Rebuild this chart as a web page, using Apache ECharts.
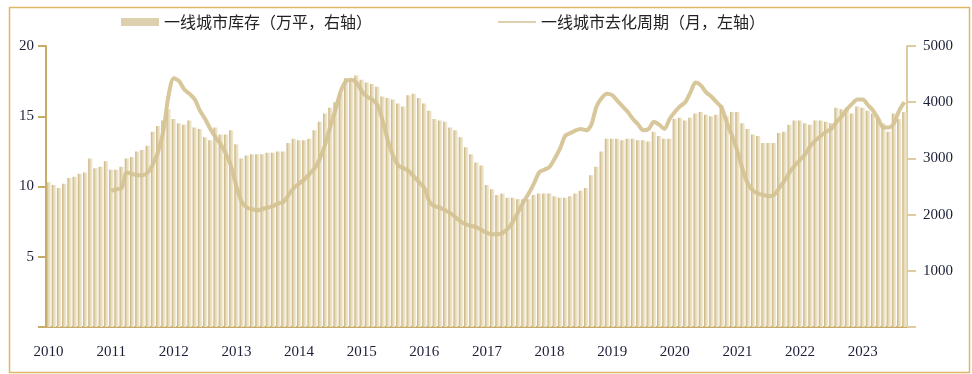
<!DOCTYPE html>
<html>
<head>
<meta charset="utf-8">
<script src="https://cdn.jsdelivr.net/npm/echarts@6/dist/echarts.min.js"></script>
<style>
html,body{margin:0;padding:0;background:#fff;}
#c{width:972px;height:374px;}
</style>
</head>
<body>
<div id="c"></div>
<script>
// Year tick labels
var years = ['2010','2011','2012','2013','2014','2015','2016','2017','2018','2019','2020','2021','2022','2023'];
var monthNames = ['01','02','03','04','05','06','07','08','09','10','11','12'];

// 一线城市库存（万平，右轴）, monthly from 2010-01
var inventory = [
  2575, 2525, 2475, 2550, 2650, 2675, 2725, 2750, 3000, 2825, 2850, 2950,
  2800, 2800, 2850, 3000, 3025, 3125, 3150, 3225, 3475, 3575, 3675, 3875,
  3700, 3625, 3600, 3675, 3550, 3525, 3375, 3325, 3550, 3425, 3425, 3500,
  3250, 3000, 3050, 3075, 3075, 3075, 3100, 3100, 3125, 3125, 3275, 3350,
  3325, 3325, 3350, 3500, 3650, 3800, 3900, 4000, 4150, 4425, 4400, 4475,
  4400, 4350, 4325, 4275, 4100, 4075, 4050, 3975, 3925, 4125, 4150, 4075,
  3975, 3850, 3700, 3675, 3650, 3550, 3500, 3375, 3200, 3075, 2925, 2875,
  2525, 2450, 2350, 2375, 2300, 2300, 2275, 2275, 2275, 2350, 2375, 2375,
  2375, 2325, 2300, 2300, 2325, 2375, 2425, 2475, 2700, 2850, 3125, 3350,
  3350, 3350, 3325, 3350, 3350, 3325, 3325, 3300, 3475, 3400, 3350, 3350,
  3700, 3725, 3675, 3725, 3800, 3825, 3775, 3750, 3775, 3950, 3750, 3825,
  3825, 3625, 3525, 3425, 3400, 3275, 3275, 3275, 3450, 3475, 3600, 3675,
  3675, 3625, 3600, 3675, 3675, 3650, 3625, 3900, 3875, 3900, 3800, 3925,
  3900, 3850, 3800, 3725, 3625, 3475, 3800, 3700, 3825
];

// 一线城市去化周期（月，左轴）, monthly from 2011-01
var cycleStartIndex = 12;
var cycle = [
  9.7, 9.8, 9.9, 11.0, 10.9, 10.8, 10.8, 11.0, 11.6, 12.5, 14.0, 16.5,
  17.7, 17.5, 16.9, 16.6, 16.2, 15.4, 14.8, 14.1, 13.5, 13.0, 12.3, 11.4,
  10.0, 8.9, 8.5, 8.4, 8.3, 8.4, 8.5, 8.6, 8.8, 8.9, 9.4, 9.9,
  10.2, 10.5, 10.9, 11.3, 12.0, 13.0, 14.3, 15.5, 16.8, 17.5, 17.6, 17.4,
  16.8, 16.4, 16.2, 15.8, 14.7, 13.3, 12.2, 11.5, 11.3, 11.1, 10.7, 10.3,
  9.9, 8.9, 8.6, 8.5, 8.3, 8.1, 7.8, 7.5, 7.3, 7.2, 7.1, 6.9,
  6.7, 6.6, 6.6, 6.7, 7.0, 7.5, 8.2, 8.9, 9.5, 10.2, 11.0, 11.2,
  11.4, 12.0, 12.7, 13.6, 13.8, 14.0, 14.1, 14.0, 14.4, 15.7, 16.3, 16.6,
  16.5, 16.1, 15.7, 15.3, 14.8, 14.4, 14.0, 14.1, 14.6, 14.4, 14.1, 14.8,
  15.3, 15.7, 16.0, 16.7, 17.4, 17.2, 16.7, 16.4, 16.0, 15.6, 14.5, 13.6,
  12.5, 11.2, 10.2, 9.7, 9.5, 9.4, 9.3, 9.4, 9.9, 10.4, 11.0, 11.5,
  11.9, 12.3, 12.9, 13.3, 13.6, 13.9, 14.1, 14.6, 15.0, 15.5, 15.9, 16.2,
  16.2, 15.8, 15.4, 14.8, 14.2, 14.2, 14.5, 15.4, 16.0
];

var seriesNames = ['一线城市库存（万平，右轴）', '一线城市去化周期（月，左轴）'];

var categories = [];
years.forEach(function (y) {
  monthNames.forEach(function (m) {
    if (categories.length < inventory.length) categories.push(y + '-' + m);
  });
});
var cycleData = [];
for (var i = 0; i < cycleStartIndex; i++) cycleData.push(null);
cycleData = cycleData.concat(cycle);

var gold = '#c9ab68';
var textColor = '#1c1f38';
var chart = echarts.init(document.getElementById('c'));
chart.setOption({
  animation: false,
  backgroundColor: '#fff',
  graphic: [{
    type: 'rect', left: 7, top: 5, silent: true,
    shape: { width: 960, height: 365 },
    style: { fill: 'none', stroke: '#ddb868', lineWidth: 1.5 }
  }],
  legend: {
    top: 14, left: 121, itemGap: 126, padding: 0,
    itemWidth: 38, itemHeight: 8,
    textStyle: { fontSize: 16, color: '#222', fontFamily: 'Noto Sans CJK SC' },
    data: [
      { name: seriesNames[0], icon: 'rect', itemStyle: { color: '#ddd0ae' } },
      { name: seriesNames[1], icon: 'path://M0,0H40V1.4H0Z', itemStyle: { color: '#d2c095' } }
    ]
  },
  grid: { left: 46, right: 65, top: 46, bottom: 47 },
  xAxis: {
    type: 'category', data: categories, boundaryGap: true,
    axisLine: { lineStyle: { color: gold, width: 2 } },
    axisTick: { alignWithLabel: true, length: 6, lineStyle: { color: gold, width: 2 },
      interval: function (idx) { return idx % 12 === 0; } },
    axisLabel: {
      interval: function (idx) { return idx % 12 === 0; },
      formatter: function (v) { return v.slice(0, 4); },
      fontFamily: 'Liberation Serif', fontSize: 15, color: textColor, margin: 18
    },
    splitLine: { show: false }
  },
  yAxis: [{
    type: 'value', min: 0, max: 20, interval: 5, position: 'left',
    axisLine: { show: true, lineStyle: { color: gold, width: 2 } },
    axisTick: { show: true, length: 8, lineStyle: { color: gold, width: 2 } },
    axisLabel: { formatter: function (v) { return v === 0 ? '' : v; },
      fontFamily: 'Liberation Serif', fontSize: 15, color: textColor, margin: 12 },
    splitLine: { show: false }
  }, {
    type: 'value', min: 0, max: 5000, interval: 1000, position: 'right',
    axisLine: { show: true, lineStyle: { color: '#dccca0', width: 2 } },
    axisTick: { show: true, length: 9, lineStyle: { color: '#dccca0', width: 2 } },
    axisLabel: { formatter: function (v) { return v === 0 ? '' : v; },
      fontFamily: 'Liberation Serif', fontSize: 15, color: textColor, margin: 16 },
    splitLine: { show: false }
  }],
  series: [{
    name: seriesNames[0], type: 'bar', yAxisIndex: 1, data: inventory,
    barCategoryGap: '18%',
    itemStyle: {
      color: new echarts.graphic.LinearGradient(0, 0, 1, 0, [
        { offset: 0, color: '#c8b07a' }, { offset: 0.5, color: '#e6dbbb' }, { offset: 1, color: '#f3ecd8' }
      ])
    }
  }, {
    name: seriesNames[1], type: 'line', yAxisIndex: 0, data: cycleData,
    symbol: 'none', smooth: 0.3, z: 3,
    lineStyle: { color: '#d4c293', width: 4, opacity: 0.92 }
  }]
});
</script>
</body>
</html>
